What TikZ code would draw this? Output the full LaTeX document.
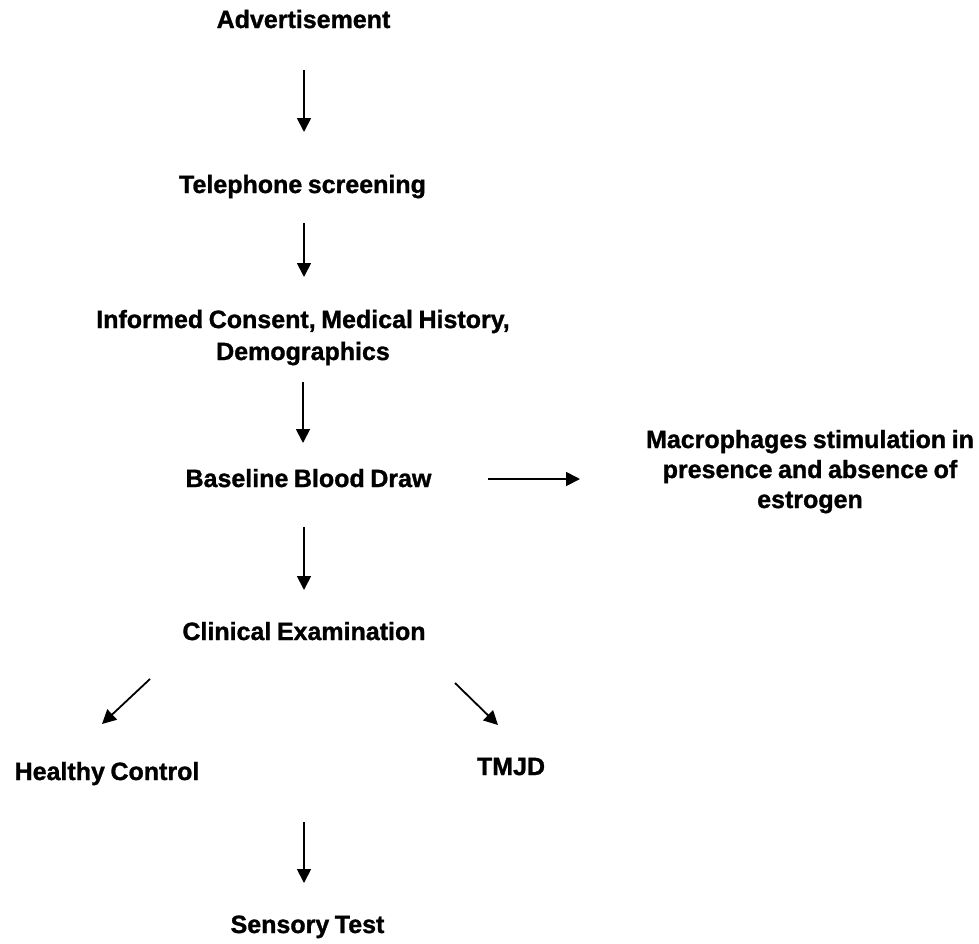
\documentclass[tikz,border=0pt]{standalone}
\usepackage{fontspec}
\setmainfont{Liberation Sans}[WordSpace=0.8,BoldFeatures={FakeBold=1.2}]
\usetikzlibrary{arrows.meta}
\begin{document}
\begin{tikzpicture}[x=1pt,y=-1pt,
  lbl/.style={inner sep=0pt,anchor=base,font=\fontsize{25}{30}\selectfont\bfseries,align=center},
  arr/.style={-{Triangle[length=14pt,width=14pt]},line width=1.8pt,black}]
\useasboundingbox (0,0) rectangle (979,943);
\node[lbl] (adv) at (303.5,28) {Advertisement};
\node[lbl] (tel) at (302.5,193) {Telephone screening};
\node[lbl,font=\fontsize{25}{32}\selectfont\bfseries] (inf) at (303,360) {Informed Consent, Medical History,\\Demographics};
\node[lbl] (bbd) at (308.5,487) {Baseline Blood Draw};
\node[lbl] (mac) at (810,508) {Macrophages stimulation in\\presence and absence of\\estrogen};
\node[lbl] (ce) at (304,640) {Clinical Examination};
\node[lbl] (hc) at (107,780) {Healthy Control};
\node[lbl] (tmjd) at (511,775) {TMJD};
\node[lbl] (st) at (307.5,933) {Sensory Test};
\coordinate (c1) at ([shift={(0.5,42)}]adv.base);
\coordinate (c2) at ([shift={(1.5,-61)}]tel.base);
\coordinate (c3) at ([shift={(1.5,30)}]tel.base);
\coordinate (c4) at ([shift={(1,-83)}]inf.base);
\coordinate (c5) at ([shift={(0,22)}]inf.base);
\coordinate (c6) at ([shift={(-5.5,-44)}]bbd.base);
\coordinate (c7) at ([shift={(-4.5,40)}]bbd.base);
\coordinate (c8) at ([shift={(0,-50)}]ce.base);
\coordinate (c9) at ([shift={(179.5,-8)}]bbd.base);
\coordinate (c10) at ([shift={(-230,-29)}]mac.base);
\coordinate (c11) at ([shift={(-154,39)}]ce.base);
\coordinate (c12) at ([shift={(-5,-56)}]hc.base);
\coordinate (c13) at ([shift={(151,43)}]ce.base);
\coordinate (c14) at ([shift={(-13,-50)}]tmjd.base);
\coordinate (c15) at ([shift={(197,42)}]hc.base);
\coordinate (c16) at ([shift={(-3.5,-50)}]st.base);
\draw[arr] (c1) -- (c2);
\draw[arr] (c3) -- (c4);
\draw[arr] (c5) -- (c6);
\draw[arr] (c7) -- (c8);
\draw[arr] (c9) -- (c10);
\draw[arr] (c11) -- (c12);
\draw[arr] (c13) -- (c14);
\draw[arr] (c15) -- (c16);
\end{tikzpicture}
\end{document}
